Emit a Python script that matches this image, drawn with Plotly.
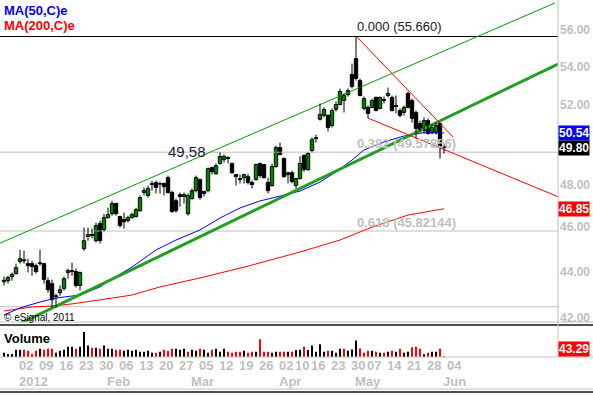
import math
import pandas as pd
import plotly.graph_objects as go

# ---------------- data ----------------
holidays = ["2012-04-06", "2012-04-09", "2012-05-01"]
dates = [d for d in pd.bdate_range("2011-12-27", "2012-06-01")
         if d.strftime("%Y-%m-%d") not in holidays]

opens = [43.55, 43.60, 43.78, 43.91, 44.44, 44.52, 44.35, 44.35, 44.26, 44.35,
         44.35, 43.60, 43.47, 42.91, 43.08, 43.26, 43.96, 44.00, 44.00, 43.39,
         45.02, 45.57, 45.66, 45.38, 46.16, 45.88, 46.44, 46.62, 47.10, 46.49,
         46.35, 46.30, 46.44, 46.49, 46.76, 47.62, 47.48, 48.00, 48.10, 48.02,
         48.05, 48.33, 47.62, 47.23, 47.52, 47.43, 46.62, 47.33, 47.71, 48.24,
         47.67, 47.71, 48.82, 48.52, 49.02, 49.21, 49.32, 49.02, 48.48, 48.29,
         48.33, 48.38, 48.10, 48.24, 49.02, 48.97, 48.10, 47.95, 48.87, 49.81,
         49.27, 48.57, 48.57, 47.95, 48.29, 49.42, 48.72, 49.66, 50.26, 51.24,
         51.44, 51.44, 50.92, 51.75, 52.00, 52.21, 52.52, 53.59, 54.45, 53.26,
         51.80, 51.85, 51.85, 52.37, 51.80, 52.26, 52.47, 52.37, 51.95, 51.69,
         51.59, 52.58, 52.21, 51.59, 51.02, 50.66, 51.17, 50.57, 50.57, 51.02,
         49.86]
highs = [43.78, 43.82, 43.96, 44.35, 44.97, 44.93, 44.57, 44.48, 44.35, 44.97,
         44.39, 43.74, 43.65, 43.04, 43.39, 43.78, 44.13, 44.39, 44.13, 44.00,
         45.98, 45.98, 45.93, 46.21, 46.30, 46.62, 46.90, 47.23, 47.14, 46.53,
         46.67, 46.53, 46.67, 46.90, 47.48, 47.86, 47.95, 48.19, 48.19, 48.14,
         48.10, 48.43, 47.71, 47.33, 47.62, 47.62, 47.57, 47.81, 48.43, 48.29,
         47.71, 48.82, 48.87, 49.02, 49.57, 49.47, 49.37, 49.07, 48.52, 48.48,
         48.52, 48.52, 48.19, 49.02, 49.07, 49.00, 48.33, 49.02, 49.91, 50.06,
         49.32, 48.62, 48.67, 48.33, 49.37, 49.47, 49.57, 50.31, 50.46, 52.05,
         51.85, 51.49, 51.80, 52.16, 52.84, 52.58, 52.84, 54.17, 55.66, 53.37,
         52.42, 51.95, 52.31, 52.42, 52.42, 52.42, 52.89, 52.47, 52.47, 51.80,
         51.95, 52.68, 52.31, 51.69, 51.17, 51.34, 51.29, 50.97, 51.07, 51.07,
         50.00]
lows = [43.39, 43.47, 43.60, 43.87, 44.35, 44.35, 43.96, 43.82, 43.91, 44.26,
        43.47, 43.08, 42.45, 42.45, 42.95, 43.17, 43.69, 43.82, 43.30, 43.17,
        44.93, 45.38, 45.48, 45.29, 45.25, 45.80, 46.39, 46.53, 46.53, 45.98,
        45.93, 46.21, 46.39, 46.44, 46.72, 47.48, 47.38, 47.71, 47.57, 47.57,
        47.48, 47.57, 46.67, 46.67, 46.95, 47.10, 46.53, 47.28, 47.62, 47.28,
        47.43, 47.62, 48.48, 48.48, 48.97, 49.07, 49.02, 48.52, 47.95, 48.05,
        48.05, 48.00, 47.81, 48.19, 48.33, 48.29, 47.57, 47.90, 48.82, 49.42,
        48.33, 48.05, 48.05, 47.81, 48.24, 48.62, 48.67, 49.57, 50.06, 51.17,
        51.34, 50.62, 50.82, 51.64, 51.95, 51.59, 52.42, 52.84, 53.26, 52.42,
        51.69, 51.29, 51.80, 51.64, 51.75, 52.05, 52.37, 51.64, 51.54, 51.34,
        51.44, 51.80, 51.07, 50.26, 50.57, 50.51, 50.46, 50.46, 50.46, 49.27,
        49.51]
closes = [43.62, 43.74, 43.87, 44.17, 44.57, 44.48, 44.26, 44.22, 44.00, 44.39,
          43.65, 43.21, 42.78, 42.95, 43.21, 43.69, 44.04, 44.04, 43.39, 43.96,
          45.38, 45.66, 45.62, 46.07, 45.38, 46.44, 46.58, 47.10, 46.62, 46.07,
          46.25, 46.44, 46.58, 46.81, 47.38, 47.71, 47.81, 48.05, 47.86, 48.05,
          47.90, 47.62, 46.72, 46.76, 47.43, 47.52, 47.48, 47.71, 48.33, 47.38,
          47.57, 48.77, 48.62, 48.92, 49.37, 49.37, 49.27, 48.57, 48.38, 48.24,
          48.48, 48.10, 48.00, 48.97, 48.43, 48.33, 47.71, 48.87, 49.81, 49.47,
          48.38, 48.48, 48.14, 48.29, 49.02, 48.72, 49.52, 50.21, 50.31, 51.49,
          51.74, 50.82, 51.69, 52.00, 52.68, 52.47, 52.73, 52.95, 53.37, 52.47,
          52.31, 51.54, 52.21, 51.69, 52.37, 52.21, 52.58, 51.69, 51.90, 51.44,
          51.85, 51.85, 51.29, 50.77, 50.66, 51.17, 50.51, 50.82, 50.92, 49.86,
          49.80]
volumes = [4, 3, 3, 7, 7, 7, 6, 3, 6, 8,
           7, 8, 8, 4, 6, 7, 10, 10, 8, 10,
           24, 11, 9, 9, 8, 11, 8, 8, 7, 7,
           6, 7, 6, 7, 5, 5, 6, 4, 4, 5,
           7, 6, 8, 8, 7, 8, 5, 7, 6, 8,
           7, 4, 7, 8, 5, 8, 5, 4, 5, 5,
           6, 4, 5, 5, 17, 5, 5, 4, 5, 5,
           5, 5, 5, 6.7, 7, 10, 6.7, 11, 5, 12.3,
           5, 6, 6, 4, 8, 8, 6, 7.3, 16, 8.3,
           4, 6, 6, 5, 4, 4, 5, 6, 5, 8,
           4, 5, 9.3, 10, 8, 2.7, 4, 5, 5, 8,
           0.7]

# moving averages (candle index, value)
ma50_idx = [0, 4, 9, 13, 19, 24, 27, 32, 38, 43, 49, 54, 59, 64, 69, 74, 79, 83, 87, 90, 95, 100, 105, 110]
ma50_val = [42.13, 42.43, 42.68, 42.85, 42.98, 43.33, 43.68, 44.20, 44.96, 45.41, 45.87, 46.42,
            46.89, 47.22, 47.45, 47.69, 48.12, 48.61, 49.19, 49.69, 50.09, 50.39, 50.56, 50.54]
ma200_idx = [0, 7, 12, 17, 24, 32, 39, 49, 61, 74, 84, 92, 101, 110]
ma200_val = [42.30, 42.47, 42.51, 42.60, 42.77, 42.98, 43.33, 43.72, 44.24, 44.87, 45.41, 46.00, 46.56, 46.85]

# drawn trend lines (candle index, price)
channel_upper = [(-1.0, 45.27), (137.75, 57.56)]
trend_lower = [(3.25, 41.71), (138.5, 54.15)]
red_line_1 = [(88.25, 55.63), (112.25, 50.34)]
red_line_2 = [(91.0, 51.30), (138.5, 47.42)]

fib_high = 55.660
fib_382 = 49.57856
fib_618 = 45.82144
support_level = 42.48
level_label = "49,58"

last_close = 49.80
last_ma50 = 50.54
last_ma200 = 46.85
volume_tag = 43.29

price_ticks = [42, 44, 46, 48, 52, 54, 56]
week_dates = ["2012-01-02", "2012-01-09", "2012-01-16", "2012-01-23", "2012-01-30",
              "2012-02-06", "2012-02-13", "2012-02-20", "2012-02-27", "2012-03-05",
              "2012-03-12", "2012-03-19", "2012-03-26", "2012-04-02", "2012-04-10",
              "2012-04-16", "2012-04-23", "2012-04-30", "2012-05-07", "2012-05-14",
              "2012-05-21", "2012-05-28", "2012-06-04"]
week_labels = ["02", "09", "16", "23", "30", "06", "13", "20", "27", "05", "12", "19",
               "26", "02", "10", "16", "23", "30", "07", "14", "21", "28", "04"]
month_dates = ["2012-01-02", "2012-02-01", "2012-03-01", "2012-04-02", "2012-05-02", "2012-06-01"]
month_labels = ["2012", "Feb", "Mar", "Apr", "May", "Jun"]

# ---------------- layout helpers ----------------
W, H = 593, 395
date_str = [d.strftime("%Y-%m-%d") for d in dates]
xi = list(range(len(dates)))


def idx_of(ds):
    return date_str.index(ds) if ds in date_str else len(dates)


def py(pix):  # paper y from pixel row
    return (H - pix) / H


PRICE_TOP_PX, PRICE_BOT_PX = 0, 322
VOL_TOP_PX, VOL_BOT_PX = 329, 357
px_per_ln = 1000.0
top_price = fib_high * math.exp(36.5 / px_per_ln)
log_top = math.log10(top_price)
log_span = (PRICE_BOT_PX - PRICE_TOP_PX) / (px_per_ln * math.log(10))

FONT = "Arial, Liberation Sans, sans-serif"
GRAY = "#c0c0c0"

fig = go.Figure()

xr = [-1, 138.5]
# horizontal levels
for lvl, col in [(support_level, GRAY), (fib_618, GRAY), (fib_382, GRAY), (fib_high, "#000000")]:
    fig.add_trace(go.Scatter(x=xr, y=[lvl, lvl], mode="lines",
                             line=dict(color=col, width=1), yaxis="y", hoverinfo="skip"))

# MAs
fig.add_trace(go.Scatter(x=ma200_idx, y=ma200_val, mode="lines",
                         line=dict(color="#ff0000", width=1), yaxis="y", hoverinfo="skip"))
fig.add_trace(go.Scatter(x=ma50_idx, y=ma50_val, mode="lines",
                         line=dict(color="#0000ff", width=1), yaxis="y", hoverinfo="skip"))

# trend lines
for pts, col, w in [(channel_upper, "#00a000", 1), (trend_lower, "#20a020", 3),
                    (red_line_1, "#ff0000", 1), (red_line_2, "#ff0000", 1)]:
    fig.add_trace(go.Scatter(x=[p[0] for p in pts], y=[p[1] for p in pts], mode="lines",
                             line=dict(color=col, width=w), yaxis="y", hoverinfo="skip"))

# candles: wicks
wx, wy = [], []
for i in xi:
    wx += [i, i, None]
    wy += [lows[i], highs[i], None]
fig.add_trace(go.Scatter(x=wx, y=wy, mode="lines", line=dict(color="#000000", width=1),
                         yaxis="y", hoverinfo="skip"))
# candles: bodies
body_base = [min(o, c) for o, c in zip(opens, closes)]
body_size = [max(abs(c - o), 0.012) for o, c in zip(opens, closes)]
body_col = ["#00ff00" if c > o else "#000000" for o, c in zip(opens, closes)]
fig.add_trace(go.Bar(x=xi, y=body_size, base=body_base, width=0.85, yaxis="y",
                     marker=dict(color=body_col, line=dict(color="#000000", width=1)),
                     hoverinfo="skip"))

# volume
vol_colors = ["#000000"] + ["#ff0000" if closes[i] < closes[i - 1] else "#000000"
                            for i in range(1, len(closes))]
fig.add_trace(go.Bar(x=xi, y=volumes, marker=dict(color=vol_colors, line=dict(width=0)),
                     width=0.3, yaxis="y2", hoverinfo="skip"))

lab_font = dict(family=FONT, size=13, color=GRAY, weight="bold")
ann = []
# x-axis labels (left aligned at bar)
for ds, lab in zip(week_dates, week_labels):
    ann.append(dict(x=idx_of(ds) - 0.8, y=py(365), xref="x", yref="paper", text=lab,
                    showarrow=False, xanchor="left", yanchor="middle", font=lab_font))
for ds, lab in zip(month_dates, month_labels):
    ann.append(dict(x=idx_of(ds) - 0.8, y=py(381), xref="x", yref="paper", text=lab,
                    showarrow=False, xanchor="left", yanchor="middle", font=lab_font))

# right-hand price labels
for v in price_ticks:
    ann.append(dict(x=1, y=math.log10(v), xref="paper", yref="y", text=f"{v:.2f}",
                    showarrow=False, xanchor="left", yanchor="middle", xshift=0,
                    font=dict(family=FONT, size=12, color=GRAY, weight="bold")))

# fib labels
peak_i = highs.index(max(highs))
ann.append(dict(x=peak_i - 0.3, y=math.log10(fib_high), xref="x", yref="y",
                text=f"0.000 ({fib_high:.3f})", showarrow=False, xanchor="left", yanchor="bottom",
                yshift=0, font=dict(family=FONT, size=13, color="#202020")))
ann.append(dict(x=peak_i - 0.3, y=math.log10(fib_382), xref="x", yref="y",
                text=f"0.382 ({fib_382:.5f})", showarrow=False, xanchor="left", yanchor="bottom",
                yshift=-1, font=dict(family=FONT, size=13, color=GRAY, weight="bold")))
ann.append(dict(x=peak_i - 0.3, y=math.log10(fib_618), xref="x", yref="y",
                text=f"0.618 ({fib_618:.5f})", showarrow=False, xanchor="left", yanchor="bottom",
                yshift=-1, font=dict(family=FONT, size=13, color=GRAY, weight="bold")))
ann.append(dict(x=40.5, y=math.log10(fib_382), xref="x", yref="y", text=level_label,
                showarrow=False, xanchor="left", yanchor="middle", yshift=1,
                font=dict(family=FONT, size=15, color="#1a1a3a")))

# price tags
for val, bg in [(last_ma50, "#0000ff"), (last_close, "#000000"), (last_ma200, "#ff0000")]:
    ann.append(dict(x=1, y=math.log10(val), xref="paper", yref="y", text=f"{val:.2f}",
                    showarrow=False, xanchor="left", yanchor="middle", xshift=0,
                    bgcolor=bg, borderpad=0,
                    font=dict(family=FONT, size=12, color="#ffffff", weight="bold")))
ann.append(dict(x=1, y=py(349), xref="paper", yref="paper", text=f"{volume_tag:.2f}",
                showarrow=False, xanchor="left", yanchor="middle", xshift=0,
                bgcolor="#ff0000", borderpad=0,
                font=dict(family=FONT, size=12, color="#ffffff", weight="bold")))

# texts
ann.append(dict(x=0.003, y=py(10), xref="paper", yref="paper", text="MA(50,C)e", showarrow=False,
                xanchor="left", yanchor="middle", font=dict(family=FONT, size=13, color="#0000ff", weight="bold")))
ann.append(dict(x=0.003, y=py(25), xref="paper", yref="paper", text="MA(200,C)e", showarrow=False,
                xanchor="left", yanchor="middle", font=dict(family=FONT, size=13, color="#ff0000", weight="bold")))
ann.append(dict(x=0.003, y=py(338), xref="paper", yref="paper", text="Volume", showarrow=False,
                xanchor="left", yanchor="middle", font=dict(family=FONT, size=13, color="#000000", weight="bold")))
ann.append(dict(x=0.003, y=py(317), xref="paper", yref="paper", text="© eSignal, 2011", showarrow=False,
                xanchor="left", yanchor="middle", font=dict(family=FONT, size=10, color="#000000")))

shapes = []
for pix, col, w in [(322, GRAY, 1), (325, "#505050", 2), (357, GRAY, 1), (389, GRAY, 1), (392, "#505050", 2)]:
    shapes.append(dict(type="line", xref="paper", yref="paper", x0=0, x1=1.07,
                       y0=py(pix), y1=py(pix), line=dict(color=col, width=w)))
shapes.append(dict(type="line", xref="paper", yref="paper", x0=1, x1=1,
                   y0=py(357), y1=1, line=dict(color=GRAY, width=1)))

fig.update_layout(
    width=W, height=H, margin=dict(l=0, r=35, t=0, b=0),
    paper_bgcolor="#ffffff", plot_bgcolor="#ffffff", showlegend=False,
    barmode="overlay",
    xaxis=dict(range=xr, showticklabels=False, showgrid=False, zeroline=False,
               anchor="y2", fixedrange=True),
    yaxis=dict(type="log", domain=[py(PRICE_BOT_PX), py(PRICE_TOP_PX)],
               range=[log_top - log_span, log_top], side="right",
               showticklabels=False, showgrid=False, zeroline=False, ticks="", fixedrange=True),
    yaxis2=dict(domain=[py(VOL_BOT_PX), py(VOL_TOP_PX)], range=[0, 27],
                showticklabels=False, showgrid=False, zeroline=False, fixedrange=True),
    annotations=ann, shapes=shapes,
)

fig.write_html("out.html", config={"displayModeBar": False},
               post_script="document.body.style.margin='0px';")
